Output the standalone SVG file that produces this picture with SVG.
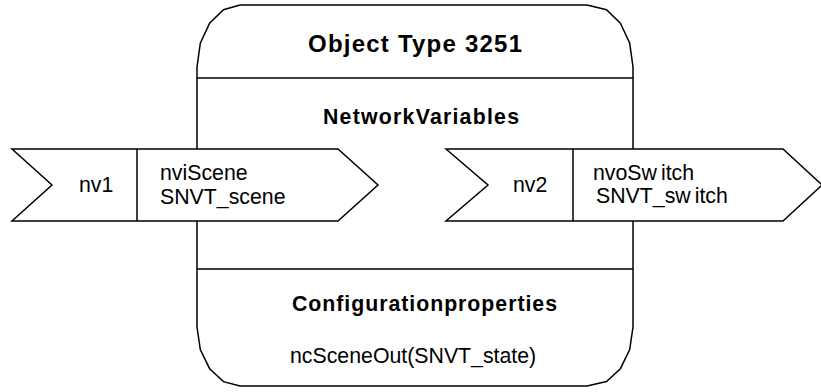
<svg xmlns="http://www.w3.org/2000/svg" width="821" height="392" viewBox="0 0 821 392">
<style>
  .ln{fill:none;stroke:#000;stroke-width:1.5;stroke-linejoin:miter}
  .shape{fill:#fff;stroke:#000;stroke-width:1.5}
  .t{font-family:"Liberation Sans",Arial,sans-serif;font-size:21.3px;fill:#000}
  .b{font-weight:bold}
</style>
<rect width="821" height="392" fill="#fff"/>
<g id="object">
  <path class="shape" d="M240,5 L587,5 L606.5,9.7 L620.4,23.2 L629.7,43.3 L633,67 L633,327 L629.7,349.6 L620.4,368.7 L606.5,381.6 L587,386 L240,386 L223.5,381.6 L209.6,368.7 L200.3,349.6 L197,327 L197,67 L200.3,43.3 L209.6,23.2 L223.5,9.7 Z"/>
  <line class="ln" x1="197" y1="78" x2="633" y2="78"/>
  <line class="ln" x1="197" y1="269" x2="633" y2="269"/>
  <text class="t b" x="308" y="52" font-size="24" style="font-size:24px" textLength="214" lengthAdjust="spacing">Object Type 3251</text>
  <text class="t b" x="323" y="124" textLength="196" lengthAdjust="spacing">NetworkVariables</text>
  <text class="t b" x="292" y="311" textLength="265" lengthAdjust="spacing">Configurationproperties</text>
  <text class="t" x="290" y="363">ncSceneOut(SNVT_state)</text>
</g>
<g id="nv1">
  <polygon class="shape" points="12,149 338,149 378,185 338,221 12,221 52,185"/>
  <line class="ln" x1="137" y1="149" x2="137" y2="221"/>
  <text class="t" x="79" y="192">nv1</text>
  <text class="t" x="160" y="180">nviScene</text>
  <text class="t" x="160" y="204">SNVT_scene</text>
</g>
<g id="nv2">
  <polygon class="shape" points="446,149 783,149 822,185 783,221 446,221 488,185"/>
  <line class="ln" x1="573" y1="149" x2="573" y2="221"/>
  <text class="t" x="513" y="192">nv2</text>
  <text class="t" x="593" y="180">nvoSw<tspan dx="4">itch</tspan></text>
  <text class="t" x="596" y="203">SNVT_sw<tspan dx="4">itch</tspan></text>
</g>
<g id="connectors"></g>
</svg>
